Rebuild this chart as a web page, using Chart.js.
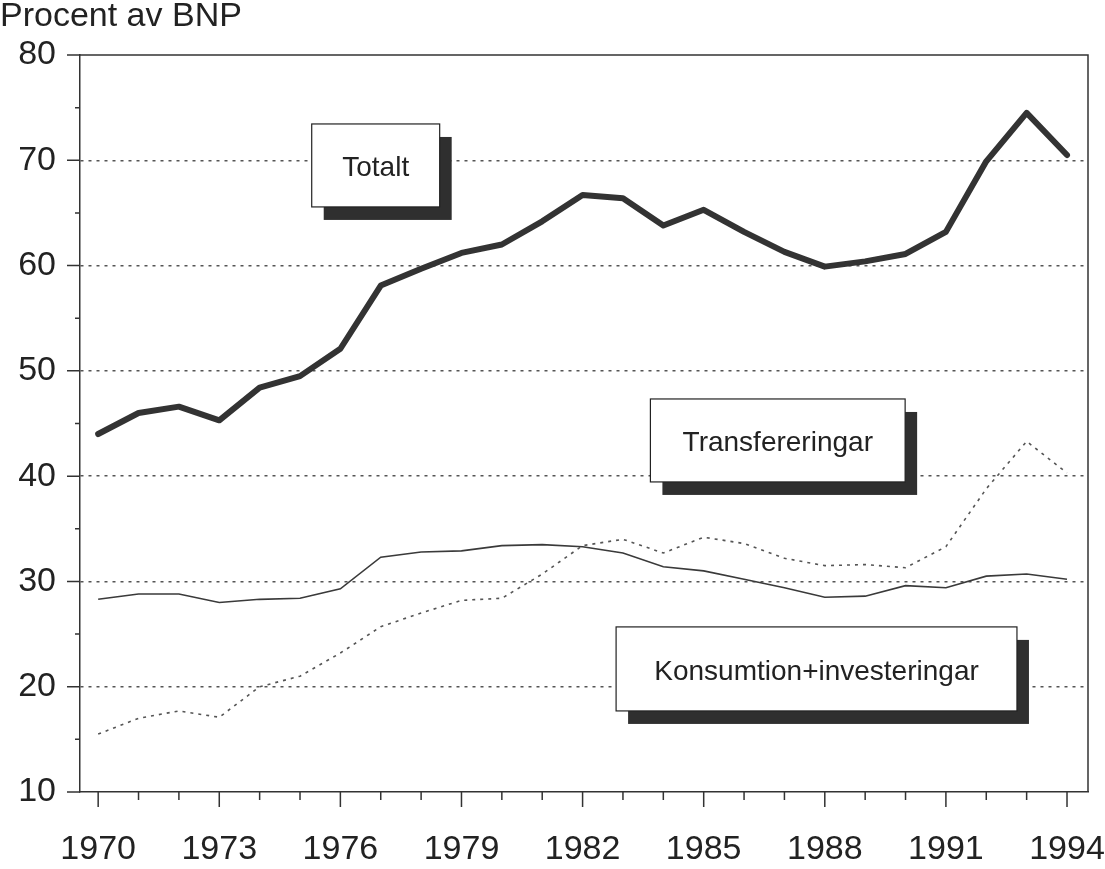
<!DOCTYPE html>
<html>
<head>
<meta charset="utf-8">
<script src="https://cdn.jsdelivr.net/npm/chart.js@4.4.1/dist/chart.umd.min.js"></script>
<style>
  html, body { margin: 0; padding: 0; background: #fff; }
  #wrap { width: 1105px; height: 869px; }
</style>
</head>
<body>
<div id="wrap"><canvas id="chart" width="1105" height="869"></canvas></div>
<script>
const years = [1970, 1971, 1972, 1973, 1974, 1975, 1976, 1977, 1978, 1979, 1980, 1981, 1982,
               1983, 1984, 1985, 1986, 1987, 1988, 1989, 1990, 1991, 1992, 1993, 1994];
const totalt = [44.0, 46.0, 46.6, 45.3, 48.4, 49.5, 52.1, 58.1, 59.7, 61.2, 62.0, 64.2, 66.7,
                66.4, 63.8, 65.3, 63.2, 61.3, 59.9, 60.4, 61.1, 63.2, 69.9, 74.5, 70.5];
const transfereringar = [15.5, 17.0, 17.7, 17.1, 20.0, 21.0, 23.2, 25.7, 27.0, 28.2, 28.4, 30.7, 33.4,
                         34.0, 32.7, 34.2, 33.6, 32.2, 31.5, 31.6, 31.3, 33.3, 38.8, 43.3, 40.3];
const konsumtion = [28.3, 28.8, 28.8, 28.0, 28.3, 28.4, 29.3, 32.3, 32.8, 32.9, 33.4, 33.5, 33.3,
                    32.7, 31.4, 31.0, 30.2, 29.4, 28.5, 28.6, 29.6, 29.4, 30.5, 30.7, 30.2];

// label boxes, in data units: [x1, x2, y top, y bottom]
const boxLabels = [
  { text: 'Totalt', x1: 1975.29, x2: 1978.46, y1: 73.45, y2: 65.57 },
  { text: 'Transfereringar', x1: 1983.68, x2: 1989.99, y1: 47.33, y2: 39.45 },
  { text: 'Konsumtion+investeringar', x1: 1982.83, x2: 1992.76, y1: 25.68, y2: 17.70 }
];

const FONT = "'Liberation Sans', Arial, Helvetica, sans-serif";
const INK = '#333';

function pts(values) {
  return years.map((y, i) => ({ x: y, y: values[i] }));
}

// tick marks: long on labelled values, short on the rest
const tickMarks = {
  id: 'tickMarks',
  afterDraw(chart) {
    const ctx = chart.ctx;
    const xs = chart.scales.x, ys = chart.scales.y;
    ctx.save();
    ctx.strokeStyle = INK;
    ctx.lineWidth = 1.5;
    ctx.beginPath();
    ys.ticks.forEach(t => {
      const py = ys.getPixelForValue(t.value);
      const len = t.value % 10 === 0 ? 13 : 5;
      ctx.moveTo(ys.right - len, py);
      ctx.lineTo(ys.right, py);
    });
    xs.ticks.forEach(t => {
      const px = xs.getPixelForValue(t.value);
      const len = (t.value - 1970) % 3 === 0 ? 15 : 8;
      ctx.moveTo(px, xs.top);
      ctx.lineTo(px, xs.top + len);
    });
    ctx.stroke();
    // frame top and right
    const a = chart.chartArea;
    ctx.beginPath();
    ctx.moveTo(a.left, a.top);
    ctx.lineTo(a.right, a.top);
    ctx.lineTo(a.right, a.bottom);
    ctx.stroke();
    ctx.restore();
  }
};

// boxed labels with a dark drop shadow
const labelBoxes = {
  id: 'labelBoxes',
  afterDatasetsDraw(chart) {
    const ctx = chart.ctx;
    const xs = chart.scales.x, ys = chart.scales.y;
    ctx.save();
    boxLabels.forEach(b => {
      const l = xs.getPixelForValue(b.x1), r = xs.getPixelForValue(b.x2);
      const t = ys.getPixelForValue(b.y1), btm = ys.getPixelForValue(b.y2);
      ctx.fillStyle = '#2f2f2f';
      ctx.fillRect(l + 12, t + 13, r - l, btm - t);
      ctx.fillStyle = '#fff';
      ctx.fillRect(l, t, r - l, btm - t);
      ctx.strokeStyle = '#222';
      ctx.lineWidth = 1.2;
      ctx.strokeRect(l, t, r - l, btm - t);
      ctx.fillStyle = '#222';
      ctx.font = '28px ' + FONT;
      ctx.textAlign = 'center';
      ctx.textBaseline = 'middle';
      ctx.fillText(b.text, (l + r) / 2, (t + btm) / 2 + 3);
    });
    ctx.restore();
  }
};

new Chart(document.getElementById('chart'), {
  type: 'line',
  data: {
    datasets: [
      {
        label: 'Totalt',
        data: pts(totalt),
        borderColor: '#333',
        borderWidth: 6,
        borderJoinStyle: 'round',
        borderCapStyle: 'round',
        pointRadius: 0,
        tension: 0
      },
      {
        label: 'Transfereringar',
        data: pts(transfereringar),
        borderColor: '#555',
        borderWidth: 1.6,
        borderDash: [3, 5],
        pointRadius: 0,
        tension: 0
      },
      {
        label: 'Konsumtion+investeringar',
        data: pts(konsumtion),
        borderColor: '#3a3a3a',
        borderWidth: 1.6,
        pointRadius: 0,
        tension: 0
      }
    ]
  },
  options: {
    responsive: false,
    animation: false,
    layout: { padding: { left: 0, right: 17, top: 0, bottom: 0 } },
    plugins: {
      legend: { display: false },
      tooltip: { enabled: false },
      title: {
        display: true,
        text: 'Procent av BNP',
        align: 'start',
        color: '#222',
        font: { family: FONT, size: 34, weight: 'normal', lineHeight: 1 },
        padding: { top: 0, bottom: 21 }
      }
    },
    scales: {
      x: {
        type: 'linear',
        min: 1969.55,
        max: 1994.52,
        afterFit: s => { s.height = 77; s.paddingLeft = 0; s.paddingRight = 0; },
        afterBuildTicks: s => { s.ticks = years.map(v => ({ value: v })); },
        grid: { display: false, drawTicks: false },
        border: { display: true, color: INK, width: 1.5 },
        ticks: {
          autoSkip: false,
          maxRotation: 0,
          padding: 37,
          color: '#222',
          font: { family: FONT, size: 34 },
          callback: v => ((v - 1970) % 3 === 0 ? String(v) : '')
        }
      },
      y: {
        min: 10,
        max: 80,
        afterFit: s => { s.width = 80; },
        grid: {
          drawTicks: false,
          color: c => (c.tick && c.tick.value % 10 === 0 && c.tick.value !== 80 && c.tick.value !== 10) ? '#555' : 'rgba(0,0,0,0)',
          lineWidth: 1.5
        },
        border: { display: true, color: INK, width: 1.5, dash: [3, 5] },
        ticks: {
          stepSize: 5,
          padding: 24,
          color: '#222',
          font: { family: FONT, size: 34 },
          callback: v => (v % 10 === 0 ? String(v) : '')
        }
      }
    }
  },
  plugins: [tickMarks, labelBoxes]
});
</script>
</body>
</html>
